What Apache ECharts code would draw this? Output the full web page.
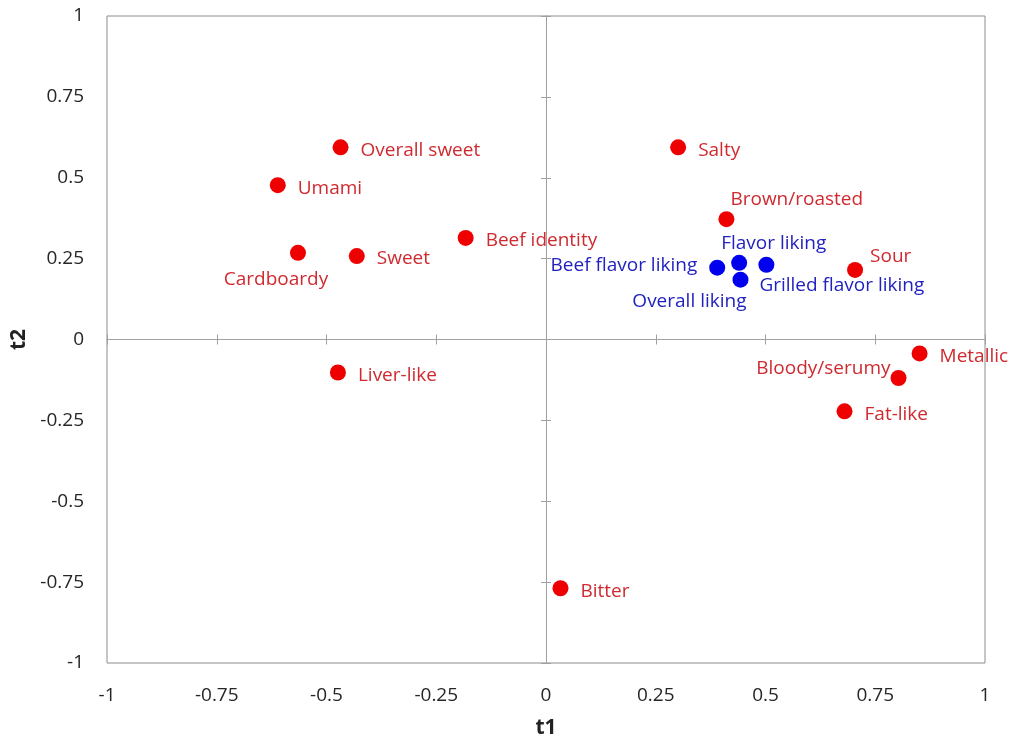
<!DOCTYPE html>
<html>
<head>
<meta charset="utf-8">
<script src="https://cdn.jsdelivr.net/npm/echarts@6/dist/echarts.min.js"></script>
<style>html,body{margin:0;padding:0;background:#fff}#c{width:1016px;height:744px}</style>
</head>
<body>
<div id="c"></div>
<script>
const attrNames = ['Overall sweet','Umami','Cardboardy','Sweet','Beef identity','Salty','Brown/roasted','Sour','Metallic','Bloody/serumy','Fat-like','Liver-like','Bitter'];
const attrT1 = [-0.468,-0.611,-0.565,-0.431,-0.183,0.301,0.411,0.704,0.851,0.803,0.680,-0.474,0.033];
const attrT2 = [0.594,0.477,0.268,0.258,0.314,0.594,0.372,0.215,-0.043,-0.119,-0.222,-0.102,-0.769];

const likeNames = ['Beef flavor liking','Flavor liking','Overall liking','Grilled flavor liking'];
const likeT1 = [0.390,0.440,0.443,0.502];
const likeT2 = [0.222,0.237,0.185,0.231];

const axisTicks = [-1,-0.75,-0.5,-0.25,0,0.25,0.5,0.75,1];

// label placement: [dx, dy, align] relative to marker centre
const place = {
  'Cardboardy': [-22, 27, 'center'],
  'Brown/roasted': [4, -20, 'left'],
  'Sour': [15, -13, 'left'],
  'Bloody/serumy': [-8, -9, 'right'],
  'Beef flavor liking': [-20, -2, 'right'],
  'Flavor liking': [-18, -19, 'left'],
  'Overall liking': [6, 22, 'right'],
  'Grilled flavor liking': [-7, 21, 'left']
};
const SZ = 16;
const FONT = 'Open Sans';
function items(names, xs, ys, color) {
  return names.map((n, i) => {
    const p = place[n] || [20, 3, 'left'];
    return {
      name: n, value: [xs[i], ys[i]],
      label: { show: true, formatter: n, position: [SZ/2 + p[0], SZ/2 + p[1]], align: p[2], verticalAlign: 'middle', color: color, fontSize: 19, fontFamily: FONT }
    };
  });
}
const fmt = v => String(v);
const base = { type: 'value', min: -1, max: 1, interval: 0.25, splitLine: { show: false } };
const zeroAxis = (pos) => Object.assign({}, base, {
  position: pos,
  axisLine: { show: true, onZero: true, lineStyle: { color: '#a0a0a0', width: 1 } },
  axisTick: { show: true, inside: false, length: 5, lineStyle: { color: '#a0a0a0' } },
  axisLabel: { show: false }
});
const chart = echarts.init(document.getElementById('c'));
chart.setOption({
  animation: false,
  grid: { left: 107, right: 31, top: 16, bottom: 76, show: true, borderColor: '#8c8c8c', borderWidth: 1, backgroundColor: 'transparent' },
  xAxis: [
    Object.assign({}, base, {
      position: 'bottom',
      axisLine: { show: false, onZero: false }, axisTick: { show: false },
      axisLabel: { margin: 23, formatter: fmt, color: '#262626', fontSize: 19, fontFamily: FONT },
      name: 't1', nameLocation: 'middle', nameGap: 55,
      nameTextStyle: { fontWeight: 'bold', fontSize: 21, color: '#222', fontFamily: FONT }
    }),
    zeroAxis('bottom'),
    zeroAxis('top')
  ],
  yAxis: [
    Object.assign({}, base, {
      position: 'left',
      axisLine: { show: false, onZero: false }, axisTick: { show: false },
      axisLabel: { margin: 23, formatter: fmt, color: '#262626', fontSize: 19, fontFamily: FONT },
      name: 't2', nameLocation: 'middle', nameGap: 77, nameRotate: 90,
      nameTextStyle: { fontWeight: 'bold', fontSize: 21, color: '#222', fontFamily: FONT }
    }),
    zeroAxis('left'),
    zeroAxis('right')
  ],
  series: [
    { type: 'scatter', symbolSize: SZ, itemStyle: { color: '#ee0000', opacity: 1 }, data: items(attrNames, attrT1, attrT2, '#cf2a30') },
    { type: 'scatter', symbolSize: SZ, itemStyle: { color: '#0000ee', opacity: 1 }, data: items(likeNames, likeT1, likeT2, '#2222c0') }
  ]
});
</script>
</body>
</html>
